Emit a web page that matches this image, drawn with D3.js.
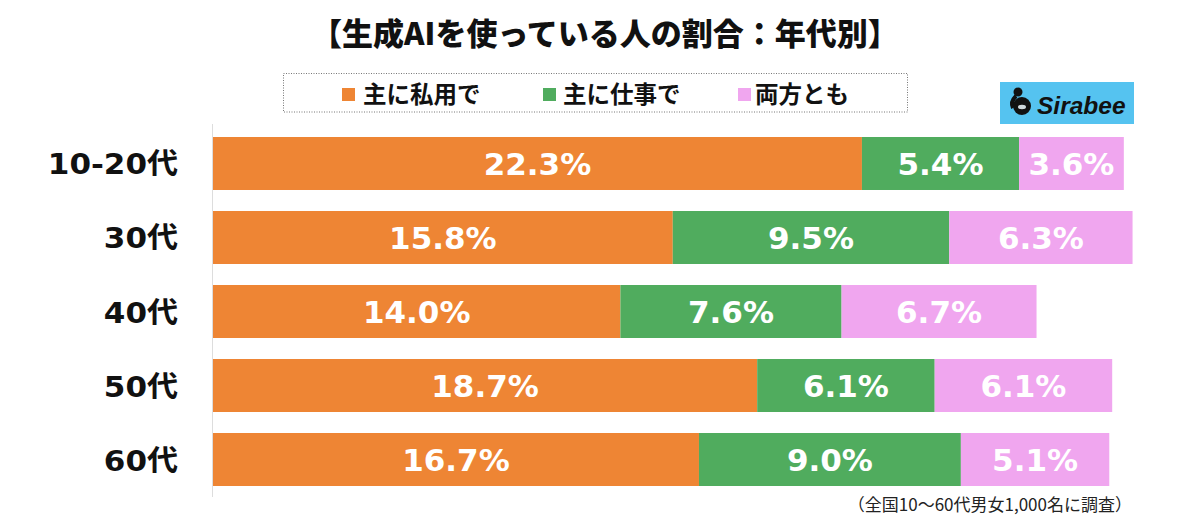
<!DOCTYPE html>
<html><head><meta charset="utf-8">
<script src="https://cdn.jsdelivr.net/npm/d3@7"></script>
<style>
html,body{margin:0;padding:0;background:#fff;}
svg{display:block;}
</style></head>
<body>
<svg id="chart" width="1200" height="524"></svg>
<script>
const categories = ["10-20代","30代","40代","50代","60代"];
const seriesNames = ["主に私用で","主に仕事で","両方とも"];
const privateUse = [22.3,15.8,14.0,18.7,16.7];
const workUse = [5.4,9.5,7.6,6.1,9.0];
const bothUse = [3.6,6.3,6.7,6.1,5.1];
const colors = ["#EE8534","#50AC5E","#F0A6EF"];
const title = "【生成AIを使っている人の割合：年代別】";
const note = "（全国10〜60代男女1,000名に調査）";

const svg = d3.select("#chart");
const jp = "'Noto Sans CJK JP','Noto Sans',sans-serif";
const num = "'DejaVu Sans','Noto Sans CJK JP',sans-serif";

const x = d3.scaleLinear().domain([0,32]).range([213,213+32*29.1]);
const y = d3.scaleBand().domain(categories).range([125.9,497.1]).paddingInner(0.284).paddingOuter(0.15);

// title
svg.append("text").attr("x",605).attr("y",45).attr("text-anchor","middle")
  .attr("font-family",jp).attr("font-weight",900).attr("font-size",31).attr("fill","#111").text(title);

// legend box
svg.append("rect").attr("x",283.5).attr("y",73.5).attr("width",624).attr("height",38.5)
  .attr("fill","none").attr("stroke","#777").attr("stroke-dasharray","1,1.5");
const legSq = [342,543,738];
const legTx = [363,563,755];
seriesNames.forEach((n,i)=>{
  svg.append("rect").attr("x",legSq[i]).attr("y",88).attr("width",13).attr("height",13).attr("fill",colors[i]);
  svg.append("text").attr("x",legTx[i]).attr("y",103).attr("font-family",jp).attr("font-weight",700)
    .attr("font-size",23.5).attr("fill","#111").text(n);
});

// logo
const logo = svg.append("g");
logo.append("rect").attr("x",1000).attr("y",82).attr("width",134).attr("height",42).attr("fill","#55C3F0");
logo.append("path").attr("d","M1016,96 C1012,100 1011,104 1013,108").attr("stroke","#111").attr("stroke-width",4).attr("fill","none");
logo.append("circle").attr("cx",1022).attr("cy",106).attr("r",9).attr("fill","#111");
logo.append("circle").attr("cx",1018).attr("cy",92).attr("r",4.5).attr("fill","#111");
logo.append("ellipse").attr("cx",1022).attr("cy",107).attr("rx",4).attr("ry",2.2).attr("fill","#cfd8dc");
logo.append("text").attr("x",1037).attr("y",114).attr("font-family","'Liberation Sans',Arial,sans-serif").attr("font-weight",700)
  .attr("font-style","italic").attr("font-size",24.5).attr("fill","#111").text("Sirabee");

// axis line
svg.append("line").attr("x1",212.5).attr("x2",212.5).attr("y1",124).attr("y2",497).attr("stroke","#ddd").attr("stroke-width",1);

// stacked data
const rows = categories.map((c,i)=>({cat:c, v:[privateUse[i],workUse[i],bothUse[i]]}));
const stack = d3.stack().keys([0,1,2]).value((d,k)=>d.v[k]);
const layers = stack(rows);

layers.forEach((layer,k)=>{
  const g = svg.append("g");
  g.selectAll("rect").data(layer).join("rect")
    .attr("x",d=>x(d[0])).attr("y",d=>y(d.data.cat))
    .attr("width",d=>x(d[1])-x(d[0])).attr("height",y.bandwidth())
    .attr("fill",colors[k]);
  g.selectAll("text").data(layer).join("text")
    .attr("x",d=>(x(d[0])+x(d[1]))/2).attr("y",d=>y(d.data.cat)+y.bandwidth()/2+11.5)
    .attr("text-anchor","middle").attr("font-family",num).attr("font-weight",700)
    .attr("font-size",31).attr("fill","#fff").text(d=>d.data.v[k].toFixed(1)+"%");
});

// category labels
svg.append("g").selectAll("text").data(categories).join("text")
  .attr("transform",d=>`translate(178,${y(d)+y.bandwidth()/2+11}) scale(1.07,1)`)
  .attr("text-anchor","end")
  .attr("font-family",num).attr("font-weight",700).attr("font-size",29).attr("fill","#111").text(d=>d);

// note
svg.append("text").attr("x",1132).attr("y",511).attr("text-anchor","end")
  .attr("font-family",jp).attr("font-size",17).attr("fill","#222").text(note);
</script>
</body></html>
